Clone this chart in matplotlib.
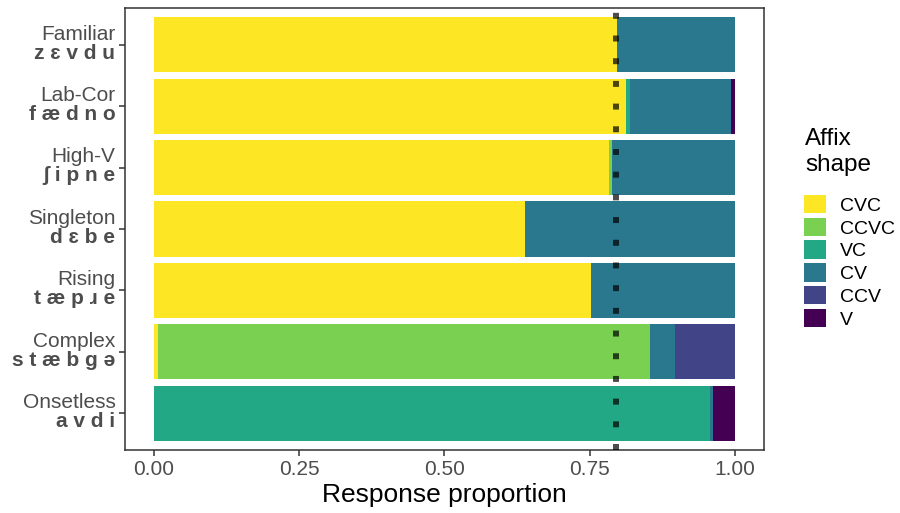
import numpy as np
import matplotlib.pyplot as plt
from matplotlib.patches import Patch

plt.rcParams["font.family"] = ["Liberation Sans", "DejaVu Sans"]

# ------------------------------------------------------
# DATA
# ------------------------------------------------------
conditions = ["Familiar", "Lab-Cor", "High-V", "Singleton", "Rising", "Complex", "Onsetless"]
stimuli = ["z ɛ v d u", "f æ d n o", "ʃ i p n e", "d ɛ b e", "t æ p ɹ e", "s t æ b g ə", "a v d i"]
shapes = ["CVC", "CCVC", "VC", "CV", "CCV", "V"]

cvc = [0.797, 0.813, 0.783, 0.638, 0.752, 0.007, 0.000]
ccvc = [0.000, 0.000, 0.005, 0.000, 0.000, 0.847, 0.000]
vc = [0.000, 0.006, 0.000, 0.000, 0.000, 0.000, 0.957]
cv = [0.203, 0.174, 0.212, 0.362, 0.248, 0.043, 0.006]
ccv = [0.000, 0.000, 0.000, 0.000, 0.000, 0.103, 0.000]
v = [0.000, 0.007, 0.000, 0.000, 0.000, 0.000, 0.037]

baseline = 0.795

# viridis, 6 levels
shape_colors = ["#FDE725", "#7AD151", "#22A884", "#2A788E", "#414487", "#440154"]

# ------------------------------------------------------
# PLOT
# ------------------------------------------------------
fig = plt.figure(figsize=(9, 5.13), dpi=100)
ax = fig.add_axes([125 / 900, 1 - 450 / 513, 639 / 900, 442 / 513])

ypos = np.arange(len(conditions))[::-1]
left = np.zeros(len(conditions))
for vals, col in zip([cvc, ccvc, vc, cv, ccv, v], shape_colors):
    vals = np.array(vals)
    ax.barh(ypos, vals, left=left, height=0.9, color=col, linewidth=0, zorder=2)
    left += vals

ax.axvline(baseline, color="black", alpha=0.7, linewidth=4.3,
           linestyle=(0, (1, 2.8)), dash_capstyle="butt", zorder=3)

ax.set_xlim(-0.05, 1.05)
ax.set_ylim(-0.6, len(conditions) - 0.4)
ax.set_xticks([0, 0.25, 0.5, 0.75, 1.0])
ax.set_xticklabels(["0.00", "0.25", "0.50", "0.75", "1.00"])
ax.set_yticks(ypos)
ax.set_yticklabels([])
ax.tick_params(axis="both", length=4, width=1.1, color="#333333",
               labelsize=15, labelcolor="#4D4D4D")
ax.tick_params(axis="x", pad=3)
for s in ax.spines.values():
    s.set_color("#333333")
    s.set_linewidth(1.1)

# two-line y labels: condition name over bold stimulus
tr = ax.get_yaxis_transform()
for y, name, stim in zip(ypos, conditions, stimuli):
    ax.text(-0.015, y + 0.02, name, transform=tr, ha="right", va="bottom",
            fontsize=15, color="#4D4D4D")
    ax.text(-0.015, y + 0.02, stim, transform=tr, ha="right", va="top",
            fontsize=15, color="#4D4D4D", fontweight="bold")

ax.set_xlabel("Response proportion", fontsize=19, labelpad=3)

# legend: title drawn separately so the key block can sit a bit lower
fig.text(805 / 900, 1 - 128 / 513, "Affix\nshape", ha="left", va="top",
         fontsize=17.5, linespacing=1.25)
handles = [Patch(facecolor=c, edgecolor="none") for c in shape_colors]
leg = fig.legend(handles, shapes, loc="upper left",
                 bbox_to_anchor=(804 / 900, 1 - 195 / 513), frameon=False,
                 fontsize=14, handlelength=1.13, handleheight=1.08,
                 labelspacing=0.15, handletextpad=0.72,
                 borderaxespad=0, borderpad=0)

fig.savefig("out.png", dpi=100)
